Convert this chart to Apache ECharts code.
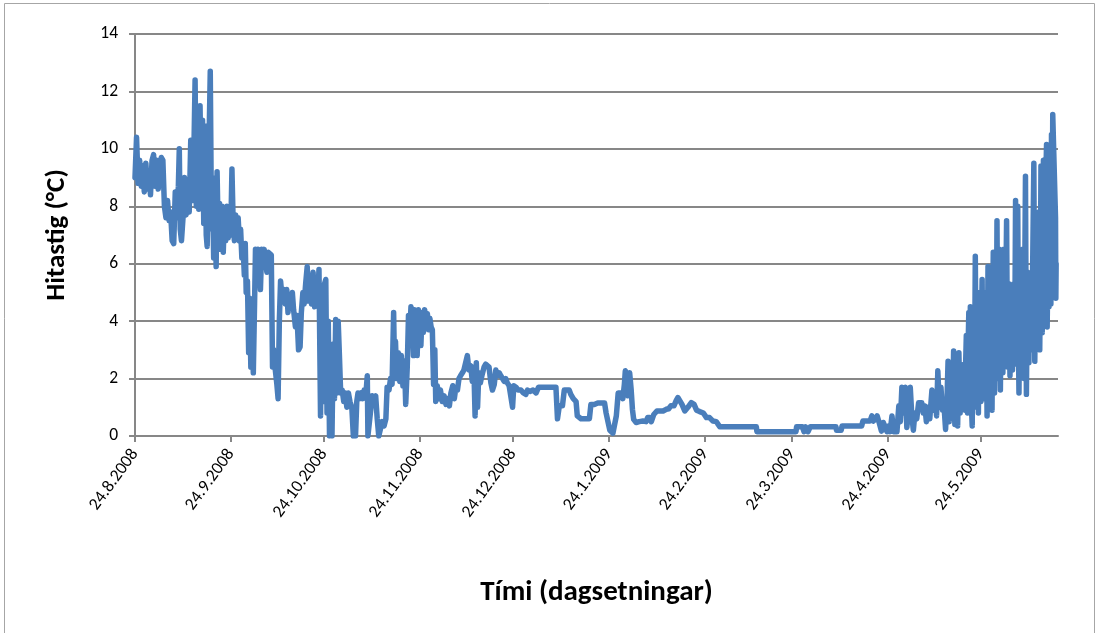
<!DOCTYPE html>
<html>
<head>
<meta charset="utf-8">
<title>Hitastig</title>
<script src="https://cdn.jsdelivr.net/npm/echarts@6/dist/echarts.min.js"></script>
<style>
  html, body { margin: 0; padding: 0; background: #ffffff; }
  #chart { width: 1099px; height: 633px; }
</style>
</head>
<body>
<div id="chart"></div>
<script>
// Logger start date; each reading is stored as days elapsed since it.
const startDate = '24.8.2008';

// Month tick labels on the date axis
const tickLabels = ['24.8.2008', '24.9.2008', '24.10.2008', '24.11.2008', '24.12.2008',
  '24.1.2009', '24.2.2009', '24.3.2009', '24.4.2009', '24.5.2009'];
const axisEnd = '18.6.2009';

// Y axis
const yMin = 0, yMax = 14, yStep = 2;

// Readings: days since start, and temperature (°C)
const dayOffsets = [
  0.0, 0.5, 1.0, 1.5, 2.0, 2.5, 3.0, 3.5, 4.0, 4.5, 5.0, 5.5, 6.0, 6.5, 7.0, 7.5, 8.0, 8.5, 9.0, 9.5,
  10.0, 10.5, 11.0, 11.5, 12.0, 12.5, 13.0, 13.5, 14.0, 14.3, 14.6, 15.0, 15.5, 16.0, 16.5, 17.0, 17.5, 18.0, 18.5, 19.0,
  19.4, 19.8, 20.2, 20.6, 21.0, 21.4, 21.8, 22.2, 22.6, 23.0, 23.3, 23.7, 24.3, 24.7, 25.0, 25.4, 25.8, 26.2, 26.5, 26.9,
  27.3, 27.7, 28.1, 28.5, 28.9, 29.3, 29.7, 30.1, 30.5, 30.9, 31.3, 31.7, 32.1, 32.5, 32.9, 33.3, 33.7, 34.1, 34.5, 34.9,
  35.3, 35.6, 35.9, 36.3, 36.7, 37.0, 37.4, 37.8, 38.2, 38.6, 38.9, 39.3, 39.7, 40.1, 40.5, 40.9, 41.3, 41.7, 42.1, 42.6,
  43.0, 43.5, 44.0, 44.4, 44.8, 45.3, 45.8, 46.2, 46.6, 47.0, 47.5, 48.0, 48.5, 49.0, 49.4, 49.8, 50.3, 50.8, 51.2, 51.8,
  52.3, 52.8, 53.3, 53.7, 54.2, 54.6, 55.1, 55.6, 56.0, 56.5, 57.0, 57.5, 58.0, 58.5, 59.0, 59.4, 59.9, 60.3, 60.8, 61.2,
  61.6, 62.0, 62.4, 62.8, 63.2, 63.6, 64.0, 64.4, 64.8, 65.2, 65.6, 66.0, 66.4, 66.9, 67.4, 67.9, 68.4, 68.9, 69.4, 70.0,
  70.5, 71.2, 71.6, 72.0, 72.5, 73.0, 73.5, 74.0, 74.5, 75.0, 75.2, 75.8, 76.2, 76.6, 77.2, 77.7, 78.2, 78.7, 79.3, 79.8,
  80.4, 81.0, 81.4, 82.0, 82.5, 83.0, 83.5, 83.8, 84.1, 84.5, 85.0, 85.5, 86.0, 86.5, 87.0, 87.4, 87.9, 88.3, 88.7, 89.1,
  89.5, 89.9, 90.3, 90.7, 91.1, 91.5, 91.9, 92.3, 92.7, 93.1, 93.5, 93.9, 94.4, 94.8, 95.2, 95.6, 96.0, 96.4, 96.8, 97.1,
  97.6, 98.1, 98.6, 99.2, 99.8, 100.4, 101.0, 101.5, 102.0, 102.6, 103.1, 103.6, 104.1, 104.6, 105.1, 105.7, 106.2, 106.7, 107.3, 107.8,
  108.4, 108.9, 109.4, 109.8, 110.2, 110.6, 111.0, 111.5, 112.0, 112.7, 113.2, 113.7, 114.3, 114.9, 115.4, 116.0, 116.5, 117.0, 117.6, 118.1,
  118.6, 119.2, 119.7, 120.2, 120.8, 121.3, 121.9, 122.3, 123.0, 123.7, 124.6, 125.4, 126.2, 126.7, 127.5, 128.5, 129.5, 130.3, 132.0, 134.0,
  135.9, 136.4, 137.0, 138.0, 138.6, 139.4, 140.2, 140.7, 141.5, 142.4, 142.8, 143.4, 144.0, 145.5, 146.7, 147.2, 148.3, 149.4, 150.5, 151.6,
  152.1, 152.7, 153.3, 153.8, 154.3, 154.9, 155.4, 156.0, 157.0, 157.5, 158.0, 158.3, 158.8, 159.2, 159.7, 160.2, 160.6, 161.0, 161.8, 162.8,
  164.0, 165.0, 165.5, 166.2, 166.7, 167.5, 168.5, 170.5, 171.5, 172.3, 173.0, 174.0, 174.8, 175.3, 175.9, 176.6, 177.5, 178.5, 179.6, 180.5,
  181.3, 182.3, 183.5, 184.5, 185.5, 186.6, 187.7, 188.3, 188.8, 195.0, 200.6, 200.8, 213.4, 213.6, 215.5, 216.0, 216.5, 217.3, 218.0, 219.0,
  226.3, 226.5, 228.0, 228.3, 234.6, 235.0, 237.3, 237.9, 238.4, 239.0, 239.6, 240.3, 241.0, 241.6, 242.2, 242.8, 243.3, 243.8, 244.4, 244.9,
  245.4, 246.0, 246.6, 247.1, 247.6, 248.1, 248.7, 249.2, 249.7, 250.3, 250.8, 251.3, 251.8, 252.4, 253.0, 253.5, 254.0, 254.5, 255.0, 255.5,
  256.0, 256.6, 257.3, 257.8, 258.3, 258.8, 259.2, 259.7, 260.2, 260.7, 261.2, 261.7, 262.2, 262.5, 262.9, 263.4, 263.9, 264.3, 264.7, 265.1,
  265.6, 266.0, 266.2, 266.4, 266.6, 266.8, 267.0, 267.2, 267.4, 267.6, 267.8, 268.0, 268.2, 268.4, 268.6, 268.8, 269.0, 269.2, 269.5, 269.7,
  270.0, 270.3, 270.5, 270.7, 271.0, 271.3, 271.6, 271.8, 272.0, 272.3, 272.5, 272.7, 272.9, 273.1, 273.3, 273.5, 273.7, 273.9, 274.1, 274.3,
  274.5, 274.7, 274.9, 275.1, 275.4, 275.6, 275.8, 276.0, 276.2, 276.5, 276.7, 276.9, 277.1, 277.3, 277.5, 277.7, 277.9, 278.1, 278.3, 278.6,
  278.8, 279.0, 279.2, 279.4, 279.6, 279.8, 280.0, 280.2, 280.5, 280.7, 280.9, 281.1, 281.4, 281.7, 281.9, 282.1, 282.3, 282.5, 282.7, 282.9,
  283.1, 283.3, 283.5, 283.7, 284.0, 284.3, 284.5, 284.7, 285.0, 285.2, 285.4, 285.6, 285.8, 286.0, 286.2, 286.4, 286.6, 286.8, 287.0, 287.2,
  287.5, 287.8, 288.0, 288.2, 288.4, 288.6, 288.8, 289.0, 289.2, 289.4, 289.6, 289.8, 290.2, 290.5, 290.7, 290.9, 291.1, 291.3, 291.5, 291.8,
  292.1, 292.3, 292.5, 292.7, 292.9, 293.1, 293.3, 293.5, 293.7, 294.0, 294.3, 294.5, 294.7, 294.9, 295.1, 295.3, 295.5, 295.7, 295.9, 296.1,
  296.3, 297.2, 297.3, 297.4
];

const temps = [
  9.0, 10.4, 8.8, 9.6, 8.7, 9.4, 8.5, 9.5, 8.6, 9.2, 8.4, 9.6, 9.8, 8.7, 9.6, 8.6, 9.5, 9.7, 9.6, 8.0,
  7.6, 8.2, 7.5, 7.8, 6.8, 6.7, 8.5, 7.6, 8.7, 10.0, 7.2, 6.8, 7.6, 9.0, 7.7, 8.4, 7.8, 10.3, 8.2, 9.8,
  12.4, 8.0, 11.0, 7.9, 11.5, 8.2, 11.0, 7.4, 10.8, 7.0, 6.6, 9.0, 12.7, 7.2, 9.0, 6.2, 8.7, 5.9, 9.2, 6.8,
  8.1, 6.5, 8.0, 6.4, 7.8, 6.8, 8.0, 6.9, 7.6, 7.0, 9.3, 7.4, 6.8, 7.7, 6.9, 7.6, 6.8, 7.2, 6.2, 6.6,
  5.6, 6.7, 5.0, 5.4, 2.9, 4.8, 2.4, 3.4, 2.2, 4.6, 6.5, 6.1, 6.5, 6.0, 5.1, 6.5, 6.2, 6.5, 6.1, 5.7,
  6.4, 6.4, 6.3, 2.4, 3.0, 2.3, 1.8, 1.3, 4.0, 5.4, 4.8, 5.1, 4.6, 5.1, 4.3, 4.9, 4.6, 5.0, 4.4, 3.8,
  4.2, 3.0, 3.1, 4.3, 5.0, 4.6, 5.3, 5.9, 4.7, 5.6, 4.6, 5.7, 4.5, 5.2, 4.8, 5.8, 0.7, 4.6, 1.2, 5.3,
  5.45, 0.8, 4.0, 0.0, 2.4, 0.0, 3.2, 1.3, 4.06, 1.5, 4.0, 2.8, 1.5, 1.6, 1.2, 1.5, 1.0, 1.5, 1.2, 1.0,
  0.0, 0.0, 1.2, 1.5, 1.3, 1.5, 1.3, 1.6, 1.4, 2.1, 0.0, 0.0, 1.0, 1.4, 1.3, 1.4, 0.6, 0.0, 0.0, 0.5,
  0.35, 0.6, 1.7, 1.6, 2.0, 1.8, 4.3, 2.3, 3.3, 2.0, 2.9, 1.9, 2.8, 1.75, 2.6, 1.1, 2.4, 4.2, 3.6, 4.5,
  4.3, 2.8, 4.4, 3.4, 2.8, 4.4, 4.2, 3.15, 4.3, 3.6, 4.4, 4.0, 4.26, 3.7, 4.1, 3.8, 3.7, 1.8, 3.0, 1.2,
  1.75, 1.3, 1.6, 1.2, 1.4, 1.1, 1.3, 1.05, 1.5, 1.75, 1.3, 1.7, 1.6, 2.0, 2.1, 2.2, 2.3, 2.3, 2.8, 2.3,
  2.45, 1.9, 2.4, 0.7, 2.55, 1.0, 2.2, 1.85, 2.1, 2.4, 2.5, 2.45, 2.4, 1.85, 1.6, 1.8, 2.3, 2.1, 2.2, 2.1,
  2.1, 1.9, 2.0, 1.85, 1.75, 1.75, 1.0, 1.75, 1.7, 1.6, 1.6, 1.5, 1.45, 1.6, 1.55, 1.6, 1.5, 1.7, 1.7, 1.7,
  1.7, 0.6, 1.05, 1.05, 1.6, 1.6, 1.6, 1.45, 1.3, 1.2, 0.7, 0.7, 0.6, 0.6, 0.6, 1.1, 1.1, 1.15, 1.15, 1.15,
  0.8, 0.5, 0.2, 0.2, 0.1, 0.1, 0.7, 1.5, 1.5, 1.3, 1.8, 2.27, 2.2, 1.4, 2.2, 1.6, 0.93, 0.58, 0.47, 0.5,
  0.52, 0.5, 0.64, 0.64, 0.5, 0.75, 0.87, 0.87, 0.93, 0.95, 1.05, 1.05, 1.25, 1.34, 1.3, 1.1, 0.87, 1.0, 1.16, 1.1,
  0.9, 0.85, 0.8, 0.64, 0.64, 0.52, 0.5, 0.5, 0.32, 0.32, 0.32, 0.15, 0.15, 0.32, 0.32, 0.15, 0.32, 0.15, 0.32, 0.32,
  0.32, 0.2, 0.2, 0.35, 0.35, 0.52, 0.52, 0.7, 0.52, 0.6, 0.7, 0.45, 0.17, 0.47, 0.47, 0.15, 0.35, 0.15, 0.7, 0.15,
  0.1, 0.15, 1.05, 0.5, 1.7, 0.8, 1.7, 0.3, 0.9, 1.7, 0.7, 0.2, 0.8, 0.6, 1.16, 1.1, 1.16, 0.8, 1.05, 0.5,
  1.0, 0.6, 1.6, 0.9, 1.5, 0.7, 2.27, 1.0, 1.7, 0.9, 1.05, 0.23, 1.4, 2.6, 0.5, 1.6, 0.6, 2.96, 0.4, 2.1,
  0.35, 2.9, 1.8, 0.8, 2.0, 2.4, 1.2, 1.0, 2.2, 2.5, 1.4, 0.9, 2.6, 3.5, 1.5, 0.8, 3.2, 4.3, 2.0, 4.5,
  1.2, 0.35, 2.8, 4.2, 1.0, 6.26, 1.5, 3.8, 4.6, 0.8, 3.5, 5.0, 2.4, 1.2, 4.0, 5.45, 2.0, 1.3, 3.6, 5.0,
  2.2, 1.3, 3.8, 0.7, 5.9, 3.1, 2.4, 4.6, 5.5, 2.2, 0.9, 4.0, 6.4, 3.0, 1.5, 4.5, 6.0, 3.2, 7.5, 2.0,
  4.1, 6.5, 3.3, 1.6, 4.2, 6.2, 3.0, 2.2, 6.5, 3.8, 2.5, 4.4, 7.5, 2.4, 3.9, 5.3, 3.4, 2.1, 4.0, 5.0,
  3.2, 2.3, 4.1, 5.3, 2.5, 8.2, 3.0, 5.5, 8.0, 3.6, 1.5, 4.2, 6.0, 3.4, 2.7, 4.8, 6.5, 3.6, 2.0, 4.6,
  9.05, 1.45, 4.0, 5.7, 3.8, 2.55, 4.6, 5.5, 3.6, 3.0, 4.4, 5.7, 9.5, 2.6, 4.3, 5.7, 4.1, 3.2, 5.4, 7.8,
  3.0, 5.2, 9.4, 5.0, 3.6, 6.0, 9.6, 5.2, 4.0, 8.6, 10.15, 3.8, 5.6, 8.0, 4.5, 5.8, 7.2, 4.6, 10.5, 5.6,
  11.2, 7.6, 4.8, 6.0
];

const DAY_MS = 86400000;
function parseDmy(s) {
  const [d, m, y] = s.split('.').map(Number);
  return Date.UTC(y, m - 1, d);
}
const t0 = parseDmy(startDate);
// Whole days from the start date to a d.m.yyyy date
const daysFromStart = (s) => Math.round((parseDmy(s) - t0) / DAY_MS);

const tickDays = tickLabels.map(daysFromStart);
const labelByDay = {};
tickDays.forEach((d, i) => { labelByDay[d] = tickLabels[i]; });

const seriesData = dayOffsets.map((d, i) => [d, temps[i]]);

const FONT = 'Carlito, Calibri, Lato, sans-serif';
const GRID_GREY = '#878787';

const chart = echarts.init(document.getElementById('chart'), null, { renderer: 'canvas' });

chart.setOption({
  backgroundColor: '#ffffff',
  animation: false,
  grid: { left: 135, right: 41, top: 34, bottom: 197, containLabel: false },
  xAxis: {
    type: 'value',
    min: 0,
    max: daysFromStart(axisEnd),
    name: 'Tími (dagsetningar)',
    nameLocation: 'middle',
    nameGap: 142,
    nameTextStyle: { fontFamily: FONT, fontWeight: 'bold', fontSize: 29, color: '#000' },
    axisLine: { show: true, lineStyle: { color: GRID_GREY, width: 2 } },
    axisTick: {
      show: true, length: 6, inside: false,
      customValues: tickDays,
      lineStyle: { color: GRID_GREY, width: 2 }
    },
    axisLabel: {
      show: true,
      customValues: tickDays,
      rotate: 54,
      margin: 15,
      fontFamily: FONT, fontSize: 17.5, color: '#000',
      formatter: (v) => labelByDay[Math.round(v)] || ''
    },
    splitLine: { show: false }
  },
  yAxis: {
    type: 'value',
    min: yMin, max: yMax, interval: yStep,
    name: 'Hitastig (°C)',
    nameLocation: 'middle',
    nameRotate: 90,
    nameGap: 64,
    nameTextStyle: { fontFamily: FONT, fontWeight: 'bold', fontSize: 27, color: '#000' },
    axisLine: { show: true, lineStyle: { color: GRID_GREY, width: 2 } },
    axisTick: { show: true, length: 6, inside: false, lineStyle: { color: GRID_GREY, width: 2 } },
    axisLabel: { margin: 17, fontFamily: FONT, fontSize: 17.5, color: '#000' },
    splitLine: { show: true, lineStyle: { color: GRID_GREY, width: 2 } }
  },
  graphic: [{
    type: 'rect',
    silent: true,
    z: -1,
    shape: { x: 4.5, y: 3.5, width: 1090, height: 640 },
    style: { fill: 'none', stroke: '#a6a6a6', lineWidth: 1 }
  }],
  series: [{
    type: 'line',
    data: seriesData,
    showSymbol: false,
    symbol: 'none',
    lineStyle: { color: '#4A7EBB', width: 5.5, cap: 'round', join: 'round' },
    emphasis: { disabled: true }
  }]
});
</script>
</body>
</html>
